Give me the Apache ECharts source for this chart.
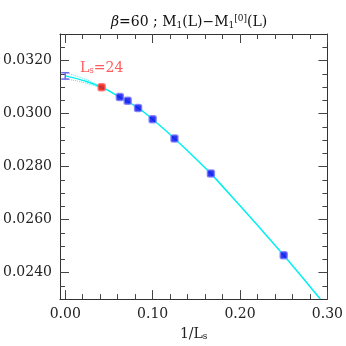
<!DOCTYPE html>
<html><head><meta charset="utf-8">
<script src="https://cdn.jsdelivr.net/npm/echarts@6/dist/echarts.min.js"></script>
<style>html,body{margin:0;padding:0;background:#fff}#c{width:346px;height:346px}</style>
</head><body><div id="c"></div>
<script>
const Ls = [24, 16, 14, 12, 10, 8, 6, 4];
const Mvals = [0.03099, 0.03062, 0.03048, 0.03021, 0.02978, 0.02906, 0.02774, 0.02465];
const highlightL = 24;
// Extrapolated value at 1/L = 0 with error
const extrapX = 0;
const extrapY = 0.03142;
const extrapErr = 0.00012;
// Fit curve
const fitX = [0, 0.02, 0.04167, 0.0625, 0.0833, 0.1, 0.125, 0.1667, 0.17, 0.2223, 0.25, 0.2918];
const fitY = [0.03142, 0.03125, 0.03099, 0.03062, 0.03021, 0.02978, 0.02906, 0.02774, 0.02762, 0.02570, 0.02465, 0.0230];
// Fit error band near 1/L = 0
const bandX = [0, 0.02, 0.045];
const bandUp = [0.03154, 0.03133, 0.03095];
const bandLo = [0.03130, 0.03118, 0.03091];
// Axis ticks
const xMajor = [0, 0.1, 0.2, 0.3];
const xMinor = [0, 0.02, 0.04, 0.06, 0.08, 0.1, 0.12, 0.14, 0.16, 0.18, 0.2, 0.22, 0.24, 0.26, 0.28, 0.3];
const yMajor = [0.024, 0.026, 0.028, 0.030, 0.032];
const yMinor = [0.0235, 0.024, 0.0245, 0.025, 0.0255, 0.026, 0.0265, 0.027, 0.0275, 0.028, 0.0285, 0.029, 0.0295, 0.030, 0.0305, 0.031, 0.0315, 0.032, 0.0325];

const FONT = 'DejaVu Serif';
const xMin = -0.006, xMax = 0.30, yMin = 0.0230, yMax = 0.0330;

function xAx(pos, major, showLabel, showLine) {
  return {
    type: 'value', position: pos, min: xMin, max: xMax,
    axisLine: {show: showLine, onZero: false, lineStyle: {color: '#333', width: 1}},
    axisTick: {show: true, inside: true, length: major ? 9 : 5, customValues: major ? xMajor : xMinor, lineStyle: {color: '#444'}},
    axisLabel: {show: showLabel, customValues: xMajor, margin: 8, fontFamily: FONT, fontSize: 14, color: '#222',
      formatter: v => v.toFixed(2)},
    splitLine: {show: false},
    name: showLabel ? '1/L{s|s}' : '', nameLocation: 'middle', nameGap: 22,
    nameTextStyle: {fontFamily: FONT, fontSize: 14, color: '#222', rich: {s: {fontSize: 9, fontFamily: FONT, verticalAlign: 'bottom', lineHeight: 8, padding: [6,0,0,0]}}}
  };
}
function yAx(pos, major, showLabel, showLine) {
  return {
    type: 'value', position: pos, min: yMin, max: yMax,
    axisLine: {show: showLine, onZero: false, lineStyle: {color: '#333', width: 1}},
    axisTick: {show: true, inside: true, length: major ? 9 : 5, customValues: major ? yMajor : yMinor, lineStyle: {color: '#444'}},
    axisLabel: {show: showLabel, customValues: yMajor, margin: 8, fontFamily: FONT, fontSize: 14, color: '#222',
      formatter: v => v.toFixed(4)},
    splitLine: {show: false}
  };
}

const pts = Ls.map((L, i) => ({
  value: [1 / L, Mvals[i]],
  itemStyle: L === highlightL ? {color: '#ee0000', borderColor: '#ff6666', borderWidth: 1.5} : {color: '#0000ee', borderColor: '#7777ff', borderWidth: 1.5},
  label: L === highlightL ? {show: true, position: 'top', distance: 8, formatter: 'L{s|s}=24', fontFamily: FONT, fontSize: 14, color: '#ff3333',
    rich: {s: {fontSize: 9, fontFamily: FONT, color: '#ff3333', verticalAlign: 'bottom', lineHeight: 8, padding: [6,0,0,0]}}} : {show: false}
}));

const chart = echarts.init(document.getElementById('c'), null, {renderer: 'canvas'});
chart.setOption({
  animation: false,
  backgroundColor: '#fff',
  title: {
    text: '{i|β}=60 ; M{s|1}(L)−M{s|1}{p|[0]}(L)',
    left: 106, top: 9,
    textStyle: {fontFamily: FONT, fontSize: 14, fontWeight: 'normal', color: '#111', lineHeight: 16,
      rich: {
        i: {fontFamily: FONT, fontSize: 14, fontStyle: 'italic', color: '#111'},
        s: {fontFamily: FONT, fontSize: 9, color: '#111', verticalAlign: 'bottom', lineHeight: 8, padding: [8,0,0,0]},
        p: {fontFamily: FONT, fontSize: 9, color: '#111', verticalAlign: 'top', lineHeight: 8, padding: [0,0,6,0]}
      }}
  },
  grid: {left: 58, right: 18, top: 34, bottom: 42},
  xAxis: [xAx('bottom', true, true, true), xAx('bottom', false, false, false), xAx('top', true, false, true), xAx('top', false, false, false)],
  yAxis: [yAx('left', true, true, true), yAx('left', false, false, false), yAx('right', true, false, true), yAx('right', false, false, false)],
  series: [
    {type: 'line', data: fitX.map((x, i) => [x, fitY[i]]), showSymbol: false, smooth: true, lineStyle: {color: '#00f0f0', width: 1.5}, z: 2},
    {type: 'line', data: bandX.map((x, i) => [x, bandUp[i]]), showSymbol: false, smooth: true, lineStyle: {color: '#33f0f0', width: 1, type: 'dotted'}, z: 2},
    {type: 'line', data: bandX.map((x, i) => [x, bandLo[i]]), showSymbol: false, smooth: true, lineStyle: {color: '#33f0f0', width: 1, type: 'dotted'}, z: 2},
    {type: 'custom', data: [[extrapX, extrapY, extrapErr]], z: 3,
      renderItem: (params, api) => {
        const x = api.value(0), y = api.value(1), e = api.value(2);
        const p1 = api.coord([x, y + e]), p2 = api.coord([x, y - e]);
        const st = {stroke: '#6a6aee', lineWidth: 1.5};
        return {type: 'group', children: [
          {type: 'line', shape: {x1: p1[0], y1: p1[1], x2: p2[0], y2: p2[1]}, style: st},
          {type: 'line', shape: {x1: p1[0] - 4, y1: p1[1], x2: p1[0] + 4, y2: p1[1]}, style: st},
          {type: 'line', shape: {x1: p2[0] - 4, y1: p2[1], x2: p2[0] + 4, y2: p2[1]}, style: st}
        ]};
      }},
    {type: 'scatter', data: pts, symbol: 'roundRect', symbolSize: 7, z: 4}
  ]
});
</script></body></html>
